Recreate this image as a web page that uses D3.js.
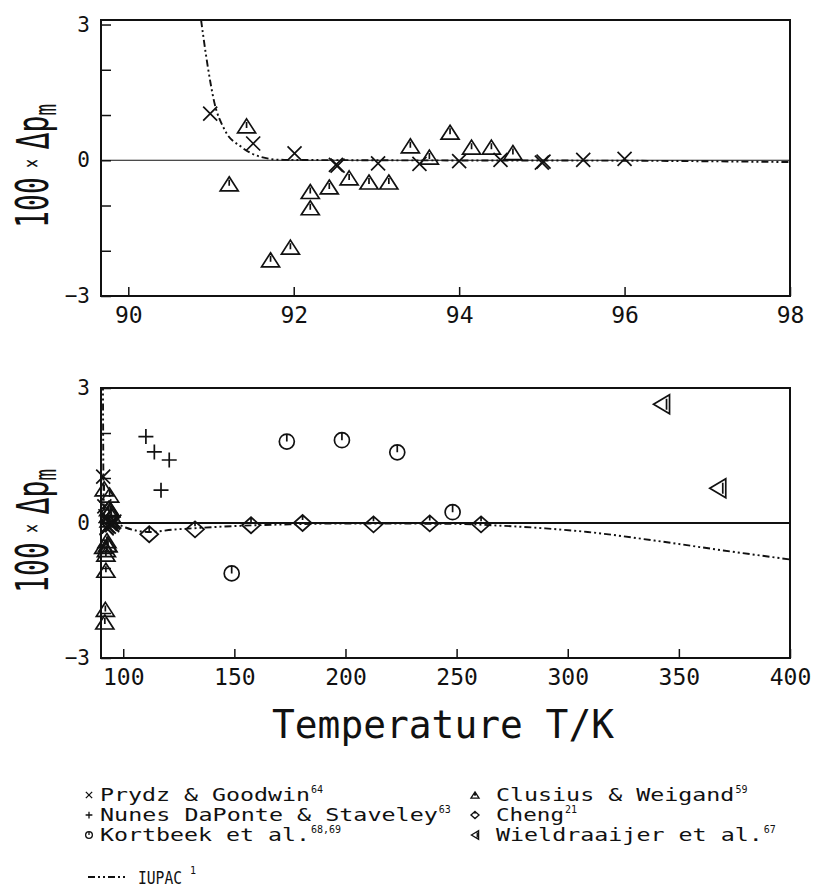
<!DOCTYPE html>
<html>
<head>
<meta charset="utf-8">
<script src="https://cdn.jsdelivr.net/npm/d3@7"></script>
<style>
  html, body { margin: 0; padding: 0; background: #fff; }
  svg { display: block; }
  text { font-family: 'DejaVu Sans Mono', monospace; fill: #111; }
</style>
</head>
<body>
<div id="app"></div>
<script>
// Deviations 100·Δp_m, one pair of arrays per source.
const prydzT = [90.99, 91.51, 92.01, 92.51, 92.53, 93.02, 93.52, 94.0, 94.5, 95.0, 95.02, 95.5, 96.0];
const prydzDev = [1.03, 0.37, 0.15, -0.1, -0.12, -0.07, -0.08, -0.02, 0.01, -0.05, -0.03, 0.01, 0.03];

const clusiusT = [91.22, 91.43, 91.72, 91.96, 92.2, 92.2, 92.43, 92.67, 92.91, 93.15, 93.41, 93.64, 93.89, 94.15, 94.39, 94.65];
const clusiusDev = [-0.52, 0.76, -2.2, -1.92, -0.69, -1.05, -0.59, -0.39, -0.48, -0.48, 0.32, 0.07, 0.62, 0.29, 0.29, 0.17];

const nunesT = [110.2, 114.0, 117.0, 120.7];
const nunesDev = [1.92, 1.58, 0.73, 1.4];

const kortbeekT = [148.8, 173.6, 198.4, 223.3, 248.2];
const kortbeekDev = [-1.12, 1.81, 1.84, 1.57, 0.24];

const chengT = [111.7, 132.3, 157.5, 180.7, 212.6, 237.9, 261.0];
const chengDev = [-0.25, -0.14, -0.05, 0.0, -0.03, -0.01, -0.03];

const wieldT = [342.2, 367.5];
const wieldDev = [2.64, 0.77];

// IUPAC equation, sampled along the dash-dot curve.
const iupacT = [90.88, 90.96, 91.04, 91.16, 91.37, 91.61, 91.85, 93, 96, 98, 101, 106, 112, 122, 134, 149, 175, 200, 250, 270, 290, 309, 339, 370, 400];
const iupacDev = [3.1, 2.08, 1.28, 0.69, 0.29, 0.07, 0.01, 0, -0.01, -0.04, -0.1, -0.17, -0.2, -0.15, -0.11, -0.07, -0.03, -0.01, -0.02, -0.06, -0.12, -0.2, -0.39, -0.61, -0.81];

// Tick values.
const topXTicks = [90, 92, 94, 96, 98];
const bottomXTicks = [100, 150, 200, 250, 300, 350, 400];
const yTicks = [-3, -2, -1, 0, 1, 2, 3];
const yLabelled = [-3, 0, 3];

const svgWidth = 814;
const svgHeight = 888;
const dashDot = '7,3,2,3,2,3';

const svg = d3.select('#app')
  .append('svg')
  .attr('width', svgWidth)
  .attr('height', svgHeight);

// Marker outlines, all centred on 0,0.
const shapes = {
  cross: (k = 1) => { const s = 7 * k; return `M${-s},${-s}L${s},${s}M${-s},${s}L${s},${-s}`; },
  plus: (k = 1) => { const s = 7.5 * k; return `M${-s},0L${s},0M0,${-s}L0,${s}`; },
  triangle: (k = 1) => {
    const w = 9 * k, h = 7 * k;
    return `M0,${-h}L${w},${h}L${-w},${h}Z M0,${-h + 3 * k}L0,${h - 5 * k}`;
  },
  circle: (k = 1) => {
    const r = 7.5 * k;
    return `M${r},0A${r},${r} 0 1,1 ${-r},0A${r},${r} 0 1,1 ${r},0Z M0,${-r}L0,0`;
  },
  diamond: (k = 1) => {
    const w = 9 * k, h = 8 * k;
    return `M0,${-h}L${w},0L0,${h}L${-w},0Z M0,${-h}L0,${-h + 5 * k}`;
  },
  leftTriangle: (k = 1) => {
    const w = 8 * k, h = 9.5 * k;
    return `M${-w},0L${w},${-h}L${w},${h}Z M${w - 3 * k},${-h + 4 * k}L${w - 3 * k},${h - 4 * k}`;
  }
};

const zip = (ts, ds) => ts.map((t, i) => ({ t, d: ds[i] }));

const series = [
  { shape: 'cross', points: zip(prydzT, prydzDev) },
  { shape: 'triangle', points: zip(clusiusT, clusiusDev) },
  { shape: 'plus', points: zip(nunesT, nunesDev) },
  { shape: 'circle', points: zip(kortbeekT, kortbeekDev) },
  { shape: 'diamond', points: zip(chengT, chengDev) },
  { shape: 'leftTriangle', points: zip(wieldT, wieldDev) }
];
const iupac = zip(iupacT, iupacDev);

/**
 * Draws one framed panel with its axes, zero line, IUPAC curve and markers.
 */
function drawPanel({ id, left, right, top, bottom, xDomain, yDomain, xTicks, zeroWidth, labelY }) {
  const x = d3.scaleLinear().domain(xDomain).range([left, right]);
  const y = d3.scaleLinear().domain(yDomain).range([bottom, top]);
  const g = svg.append('g');

  g.append('clipPath').attr('id', id)
    .append('rect')
    .attr('x', left).attr('y', top)
    .attr('width', right - left).attr('height', bottom - top);

  // x axis: ticks inside the frame, labels below
  g.append('g')
    .attr('transform', `translate(0,${bottom})`)
    .call(d3.axisBottom(x).tickValues(xTicks).tickSizeInner(-9).tickSizeOuter(0).tickPadding(11).tickFormat(d3.format('d')))
    .call((a) => a.select('.domain').remove())
    .call((a) => a.selectAll('line').attr('stroke', '#111').attr('stroke-width', 1.5))
    .call((a) => a.selectAll('text').attr('font-size', 23).attr('font-family', 'DejaVu Sans Mono').attr('fill', '#111'));

  // y axis: ticks at every unit, only -3, 0, 3 labelled
  g.append('g')
    .attr('transform', `translate(${left},0)`)
    .call(d3.axisLeft(y).tickValues(yTicks).tickSizeInner(-10).tickSizeOuter(0).tickPadding(11)
      .tickFormat((d) => (yLabelled.includes(d) ? (d < 0 ? '\u2212' + Math.abs(d) : String(d)) : '')))
    .call((a) => a.select('.domain').remove())
    .call((a) => a.selectAll('line').attr('stroke', '#111').attr('stroke-width', 1.5))
    .call((a) => a.selectAll('text').attr('font-size', 21).attr('font-family', 'DejaVu Sans Mono').attr('fill', '#111'));

  // zero reference line
  g.append('line')
    .attr('x1', left).attr('x2', right)
    .attr('y1', y(0)).attr('y2', y(0))
    .attr('stroke', '#111').attr('stroke-width', zeroWidth);

  // IUPAC curve
  g.append('path')
    .datum(iupac)
    .attr('clip-path', `url(#${id})`)
    .attr('fill', 'none')
    .attr('stroke', '#111')
    .attr('stroke-width', 1.9)
    .attr('stroke-dasharray', dashDot)
    .attr('d', d3.line().x((p) => x(p.t)).y((p) => y(p.d)).curve(d3.curveMonotoneX));

  // markers
  series.forEach((s) => {
    g.append('g')
      .selectAll('path')
      .data(s.points.filter((p) => p.t >= xDomain[0] && p.t <= xDomain[1]))
      .join('path')
      .attr('transform', (p) => `translate(${x(p.t)},${y(p.d)})`)
      .attr('d', shapes[s.shape]())
      .attr('fill', 'none')
      .attr('stroke', '#111')
      .attr('stroke-width', 1.7);
  });

  // frame
  g.append('rect')
    .attr('x', left).attr('y', top)
    .attr('width', right - left).attr('height', bottom - top)
    .attr('fill', 'none')
    .attr('stroke', '#111')
    .attr('stroke-width', 2);

  // rotated y label: 100 × Δp_m
  const lab = g.append('text')
    .attr('transform', `translate(48,${labelY}) rotate(-90) scale(0.64,1)`)
    .attr('text-anchor', 'middle')
    .attr('font-size', 44);
  lab.append('tspan').text('100');
  lab.append('tspan').attr('font-size', 24).attr('dy', -8).text(' \u00d7 ');
  lab.append('tspan').attr('dy', 8).text('\u0394p');
  lab.append('tspan').attr('font-size', 30).attr('dy', 8).text('m');
}

drawPanel({
  id: 'clip-top', left: 101, right: 790, top: 20, bottom: 296,
  xDomain: [89.67, 98], yDomain: [-3, 3.1], xTicks: topXTicks, zeroWidth: 1, labelY: 166
});

drawPanel({
  id: 'clip-bottom', left: 101, right: 790, top: 388, bottom: 658,
  xDomain: [90, 400], yDomain: [-3, 3], xTicks: bottomXTicks, zeroWidth: 2, labelY: 531
});

// x title
svg.append('text')
  .attr('x', 272)
  .attr('y', 738)
  .attr('font-size', 39)
  .attr('textLength', 342)
  .attr('lengthAdjust', 'spacingAndGlyphs')
  .text('Temperature T/K');

// Legend: plotter-style wide glyphs, so each label is stretched to its width
const legendItems = [
  { shape: 'cross', label: 'Prydz & Goodwin', sup: '64', col: 0, row: 0 },
  { shape: 'triangle', label: 'Clusius & Weigand', sup: '59', col: 1, row: 0 },
  { shape: 'plus', label: 'Nunes DaPonte & Staveley', sup: '63', col: 0, row: 1 },
  { shape: 'diamond', label: 'Cheng', sup: '21', col: 1, row: 1 },
  { shape: 'circle', label: 'Kortbeek et al.', sup: '68,69', col: 0, row: 2 },
  { shape: 'leftTriangle', label: 'Wieldraaijer et al.', sup: '67', col: 1, row: 2 }
];
const legendCols = [{ sym: 89, text: 100 }, { sym: 475, text: 496 }];
const legendRows = [801, 821, 841];
const charStep = 14.2;

const legend = svg.append('g');
legendItems.forEach((item) => {
  const c = legendCols[item.col];
  const by = legendRows[item.row];
  const len = item.label.length * charStep - 3;
  legend.append('path')
    .attr('transform', `translate(${c.sym},${by - 6})`)
    .attr('d', shapes[item.shape](0.45))
    .attr('fill', 'none')
    .attr('stroke', '#111')
    .attr('stroke-width', 1.3);
  legend.append('text')
    .attr('x', c.text)
    .attr('y', by)
    .attr('font-size', 17)
    .attr('textLength', len)
    .attr('lengthAdjust', 'spacingAndGlyphs')
    .text(item.label);
  legend.append('text')
    .attr('x', c.text + len + 1)
    .attr('y', by - 8)
    .attr('font-size', 10)
    .text(item.sup);
});

legend.append('line')
  .attr('x1', 88).attr('x2', 128)
  .attr('y1', 877).attr('y2', 877)
  .attr('stroke', '#111')
  .attr('stroke-width', 1.8)
  .attr('stroke-dasharray', dashDot);
legend.append('text')
  .attr('x', 138)
  .attr('y', 884)
  .attr('font-size', 17)
  .attr('textLength', 44)
  .attr('lengthAdjust', 'spacingAndGlyphs')
  .text('IUPAC');
legend.append('text')
  .attr('x', 190)
  .attr('y', 874)
  .attr('font-size', 10)
  .text('1');
</script>
</body>
</html>
